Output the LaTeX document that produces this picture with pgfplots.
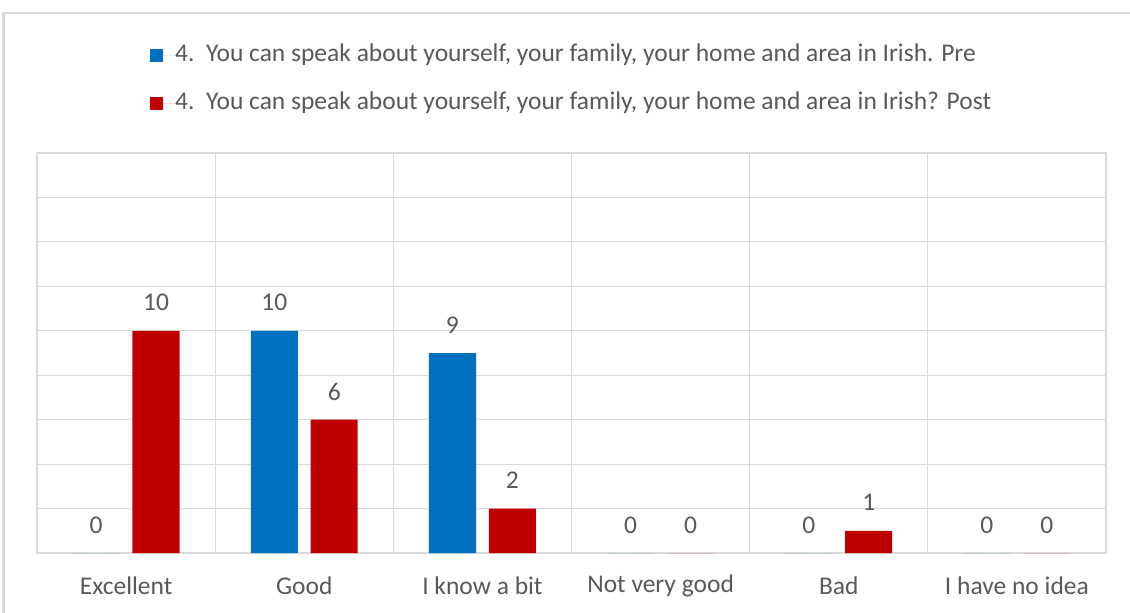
\documentclass[border=0pt]{standalone}
\usepackage{fontspec}
\setmainfont{Carlito}
\usepackage{pgfplots}
\pgfplotsset{compat=1.18}
\definecolor{txt}{HTML}{595959}
\definecolor{gridc}{HTML}{D9D9D9}
\definecolor{blueb}{HTML}{0070C0}
\definecolor{redb}{HTML}{C00000}
\begin{document}
\begin{tikzpicture}[x=1bp,y=1bp]
\path[use as bounding box] (0,0) rectangle (1130,-613);
\draw[gridc, line width=2bp] (3.5,-613) -- (3.5,-13.5) -- (1130,-13.5);
\begin{axis}[
  at={(37bp,-553bp)}, anchor=south west,
  width=1069bp, height=400bp, scale only axis,
  xmin=-0.5, xmax=5.5, ymin=0, ymax=18,
  xtick={0,...,5},
  xticklabels={Excellent, Good, I know a bit, Not very good, Bad, I have no idea},
  minor xtick={-0.5,0.5,...,5.5},
  xminorgrids,
  ytick={0,2,...,18}, yticklabels={}, ymajorgrids,
  grid style={gridc, line width=1bp},
  minor grid style={gridc, line width=1bp},
  axis line style={gridc, line width=1.2bp},
  major tick length=0, minor tick length=0,
  tick label style={font=\fontsize{25.5bp}{30bp}\selectfont, text=txt},
  xticklabel style={anchor=center, yshift=-33bp},
  /pgf/number format/assume math mode=true,
  every node near coord/.append style={font=\fontsize{25.5bp}{30bp}\selectfont, text=txt, anchor=center, yshift=28bp},
  legend cell align=left,
  legend style={at={(rel axis cs:0.1057,1.185)}, anchor=west, draw=none, fill=none,
    inner sep=0pt, row sep=25bp,
    font=\fontsize{25.5bp}{30bp}\selectfont, text=txt,
    nodes={inner sep=0pt, text height=18bp, text depth=5bp}},
  legend image code/.code={\fill[#1, draw=none] (0bp,-6.5bp) rectangle (13bp,6.5bp); \path[draw=none] (0bp,0bp) -- (25bp,0bp);},
]
\addplot[ybar, bar width=0.264, bar shift=-0.168, fill=blueb, draw=none, nodes near coords,
  every node near coord/.append style={xshift=-30bp}]
  coordinates {(0,0) (1,10) (2,9) (3,0) (4,0) (5,0)};
\addlegendentry{4.\ \ You can speak about yourself, your family, your home and area in Irish. Pre}
\addplot[ybar, bar width=0.264, bar shift=0.168, fill=redb, draw=none, nodes near coords,
  every node near coord/.append style={xshift=30bp}]
  coordinates {(0,10) (1,6) (2,2) (3,0) (4,1) (5,0)};
\addlegendentry{4.\ \ You can speak about yourself, your family, your home and area in Irish? Post}
\end{axis}
\end{tikzpicture}
\end{document}
